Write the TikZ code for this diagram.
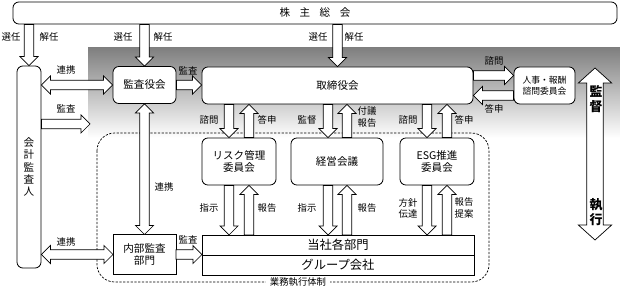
\documentclass[tikz,border=0pt]{standalone}
\usepackage{fontspec}
\setmainfont{Noto Sans CJK JP}
\usetikzlibrary{calc, positioning}

% block arrow sizes
\newcommand{\baw}{0.14cm}
\newcommand{\bah}{0.27cm}
\newcommand{\bal}{0.27cm}

% hollow block arrow from #1 to #2
\newcommand{\blockarr}[2]{%
  \coordinate (ba-s) at #1;
  \coordinate (ba-e) at #2;
  \coordinate (ba-b) at ($(ba-e)!\bal!(ba-s)$);
  \draw[barrow] ($(ba-s)!\baw!90:(ba-e)$) -- ($(ba-b)!\baw!90:(ba-e)$)
    -- ($(ba-b)!\bah!90:(ba-e)$) -- (ba-e) -- ($(ba-b)!\bah!-90:(ba-e)$)
    -- ($(ba-b)!\baw!-90:(ba-e)$) -- ($(ba-s)!\baw!-90:(ba-e)$) -- cycle;
}
% same, with heads at both ends
\newcommand{\dblockarr}[2]{%
  \coordinate (ba-s) at #1;
  \coordinate (ba-e) at #2;
  \coordinate (ba-a) at ($(ba-s)!\bal!(ba-e)$);
  \coordinate (ba-b) at ($(ba-e)!\bal!(ba-s)$);
  \draw[barrow] (ba-s) -- ($(ba-a)!\bah!90:(ba-e)$) -- ($(ba-a)!\baw!90:(ba-e)$)
    -- ($(ba-b)!\baw!90:(ba-e)$) -- ($(ba-b)!\bah!90:(ba-e)$) -- (ba-e)
    -- ($(ba-b)!\bah!-90:(ba-e)$) -- ($(ba-b)!\baw!-90:(ba-e)$)
    -- ($(ba-a)!\baw!-90:(ba-e)$) -- ($(ba-a)!\bah!-90:(ba-e)$) -- cycle;
}

\begin{document}
\begin{tikzpicture}[x=0.03cm, y=-0.03cm, line width=0.7pt,
    every node/.style={font=\fontsize{9}{11}\selectfont},
    box/.style={draw, fill=white, rounded corners=5pt, align=center, inner sep=0pt},
    sqbox/.style={draw, fill=white, align=center, inner sep=0pt, outer sep=0pt},
    lbl/.style={font=\fontsize{8}{9.5}\selectfont, align=center, inner sep=1pt},
    barrow/.style={draw, fill=white, line width=0.6pt, line join=miter}]
        \useasboundingbox (0,0) rectangle (620,289);
        \shade[top color=black!50, bottom color=white] (88,48) rectangle (620,138);
        \draw[dash pattern=on 2pt off 1.2pt, line width=0.6pt, rounded corners=15pt] (97,133) rectangle (489,282);

        % boxes
        \node[box, minimum width=18.12cm, minimum height=0.66cm] (soukai) at (315,13) {株\hspace{0.9em}主\hspace{0.9em}総\hspace{0.9em}会};
        \node[box, minimum width=0.72cm, minimum height=6.06cm, font=\fontsize{9}{10.5}\selectfont] (kaikei) at (29,167) {会\\計\\監\\査\\人};
        \node[box, minimum width=1.89cm, minimum height=1.11cm] (kansayaku) at (144.5,85) {監査役会};
        \node[box, minimum width=8.13cm, minimum height=1.11cm] (torishimari) at (337.5,85.5) {取締役会};
        \node[box, minimum width=1.83cm, minimum height=1.11cm, font=\fontsize{7.5}{9.5}\selectfont] (jinji) at (544.5,85.5) {人事・報酬\\諮問委員会};
        \node[box, minimum width=2.22cm, minimum height=1.41cm] (risk) at (239,161.5) {リスク管理\\委員会};
        \node[box, minimum width=2.76cm, minimum height=1.41cm] (keiei) at (337,161.5) {経営会議};
        \node[box, minimum width=2.22cm, minimum height=1.41cm] (esg) at (437,161.5) {ESG推進\\委員会};
        \node[sqbox, minimum width=1.89cm, minimum height=1.2cm] (naibu) at (144.5,254.5) {内部監査\\部門};
        \node[sqbox, minimum width=8.16cm, minimum height=0.6cm, font=\fontsize{10.5}{12}\selectfont] (tousha) at (338,245) {当社各部門};
        \node[sqbox, minimum width=8.16cm, minimum height=0.6cm, font=\fontsize{10.5}{12}\selectfont, below=0pt of tousha] (group) {グループ会社};
        \node[lbl, fill=white, inner xsep=3pt] (gyomu) at (298,282) {業務執行体制};

        % 株主総会から
        \blockarr{(kaikei.north |- soukai.south)}{(kaikei.north)}
        \blockarr{(kansayaku.north |- soukai.south)}{(kansayaku.north)}
        \blockarr{(torishimari.north |- soukai.south)}{(torishimari.north)}
        \node[lbl] (sen1) at (11,37) {選任}; \node[lbl] (kai1) at (49,37) {解任};
        \node[lbl] (sen2) at (123,37) {選任}; \node[lbl] (kai2) at (163,37) {解任};
        \node[lbl] (sen3) at (318,37) {選任}; \node[lbl] (kai3) at (354,37) {解任};

        % 監査
        \coordinate (kansa-end) at (90,124);
        \dblockarr{(kaikei.east |- kansayaku.west)}{(kansayaku.west)}
        \blockarr{(kaikei.east |- kansa-end)}{(kansa-end)}
        \blockarr{(kansayaku.east)}{(kansayaku.east -| torishimari.west)}
        \dblockarr{(kansayaku.south)}{(naibu.north)}
        \dblockarr{(kaikei.east |- naibu.west)}{(naibu.west)}
        \blockarr{(naibu.east)}{(naibu.east -| tousha.west)}
        \node[lbl] (renkei1) at (66,70) {連携}; \node[lbl] (kansa1) at (66,109) {監査};
        \node[lbl] (kansa2) at (188,71) {監査}; \node[lbl] (renkei2) at (164,187) {連携};
        \node[lbl] (renkei3) at (66,242) {連携}; \node[lbl] (kansa3) at (188,240) {監査};

        % 取締役会と委員会
        \blockarr{([yshift=0.3cm]torishimari.east |- jinji.west)}{([yshift=0.3cm]jinji.west)}
        \blockarr{([yshift=-0.3cm]jinji.west)}{([yshift=-0.3cm]torishimari.east |- jinji.west)}
        \node[lbl] (shimon0) at (494,61) {諮問}; \node[lbl] (toushin0) at (494,109) {答申};

        \blockarr{([xshift=-0.3cm]risk.north |- torishimari.south)}{([xshift=-0.3cm]risk.north)}
        \blockarr{([xshift=0.3cm]risk.north)}{([xshift=0.3cm]risk.north |- torishimari.south)}
        \blockarr{([xshift=-0.27cm]keiei.north |- torishimari.south)}{([xshift=-0.27cm]keiei.north)}
        \blockarr{([xshift=0.3cm]keiei.north)}{([xshift=0.3cm]keiei.north |- torishimari.south)}
        \blockarr{([xshift=-0.3cm]esg.north |- torishimari.south)}{([xshift=-0.3cm]esg.north)}
        \blockarr{([xshift=0.3cm]esg.north)}{([xshift=0.3cm]esg.north |- torishimari.south)}
        \node[lbl] (shimon1) at (209,120) {諮問}; \node[lbl] (toushin1) at (267,120) {答申};
        \node[lbl] (kantoku1) at (307,120) {監督}; \node[lbl] (fugi) at (367,117) {付議\\報告};
        \node[lbl] (shimon2) at (408,120) {諮問}; \node[lbl] (toushin2) at (464,120) {答申};

        % 委員会と各部門
        \blockarr{([xshift=-0.3cm]risk.south)}{([xshift=-0.3cm]risk.south |- tousha.north)}
        \blockarr{([xshift=0.3cm]risk.south |- tousha.north)}{([xshift=0.3cm]risk.south)}
        \blockarr{([xshift=-0.27cm]keiei.south)}{([xshift=-0.27cm]keiei.south |- tousha.north)}
        \blockarr{([xshift=0.3cm]keiei.south |- tousha.north)}{([xshift=0.3cm]keiei.south)}
        \blockarr{([xshift=-0.3cm]esg.south)}{([xshift=-0.3cm]esg.south |- tousha.north)}
        \blockarr{([xshift=0.3cm]esg.south |- tousha.north)}{([xshift=0.3cm]esg.south)}
        \node[lbl] (shiji1) at (209,208) {指示}; \node[lbl] (houkoku1) at (267,208) {報告};
        \node[lbl] (shiji2) at (307,208) {指示}; \node[lbl] (houkoku2) at (367,208) {報告};
        \node[lbl] (houshin) at (408,208) {方針\\伝達}; \node[lbl] (teian) at (464,208) {報告\\提案};

        % 監督・執行
        \coordinate (kantoku-top) at (595,68);
        \coordinate (shikkou-bot) at (595,240);
        {\renewcommand{\baw}{0.25cm}\renewcommand{\bah}{0.5cm}\renewcommand{\bal}{0.45cm}
        \dblockarr{(kantoku-top)}{(shikkou-bot)}}
        \node[align=center, font=\bfseries\fontsize{11}{13}\selectfont] (kantoku) at (596,99) {監\\督};
        \node[align=center, font=\bfseries\fontsize{11}{13}\selectfont] (shikkou) at (596,212) {執\\行};
    \end{tikzpicture}
\end{document}
